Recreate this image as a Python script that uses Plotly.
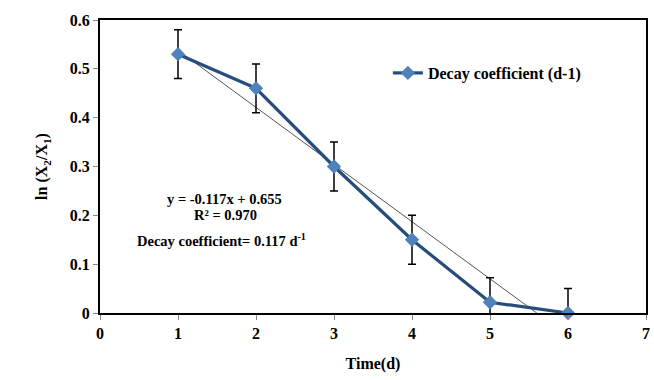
import plotly.graph_objects as go

days = [1, 2, 3, 4, 5, 6]
ln_ratio = [0.53, 0.46, 0.30, 0.15, 0.022, 0.0]
err = [0.05, 0.05, 0.05, 0.05, 0.05, 0.05]
slope = -0.117
intercept = 0.655
x_ticks = [0, 1, 2, 3, 4, 5, 6, 7]
y_ticks = [0, 0.1, 0.2, 0.3, 0.4, 0.5, 0.6]
y_tick_text = ["0", "0.1", "0.2", "0.3", "0.4", "0.5", "0.6"]

FONT = "Liberation Serif"

trend_x = [days[0], days[-1]]
trend_y = [slope * v + intercept for v in trend_x]

fig = go.Figure()
fig.add_trace(go.Scatter(
    x=trend_x, y=trend_y, mode="lines",
    line=dict(color="#555555", width=1), showlegend=False, hoverinfo="skip"))
fig.add_trace(go.Scatter(
    x=days, y=ln_ratio, mode="lines+markers", name="<b>Decay coefficient (d-1)</b>",
    line=dict(color="#254E7C", width=3.2),
    marker=dict(symbol="diamond", size=11, color="#4F81BD"),
    error_y=dict(type="data", array=err, visible=True, color="black", thickness=1.5, width=4),
    cliponaxis=False))

PW = 550.0
PH = 293.0
def px(xp):
    return (xp - 100) / PW
def py(yp):
    return 1 - (yp - 20) / PH

ann_font = dict(family=FONT, size=14.5, color="black")
fig.add_annotation(x=px(225), y=py(199), xref="paper", yref="paper", xanchor="center", yanchor="middle",
                   text="<b>y = -0.117x + 0.655</b>", showarrow=False, font=ann_font)
fig.add_annotation(x=px(226), y=py(215), xref="paper", yref="paper", xanchor="center", yanchor="middle",
                   text="<b>R² = 0.970</b>", showarrow=False, font=ann_font)
fig.add_annotation(x=px(222), y=py(240), xref="paper", yref="paper", xanchor="center", yanchor="middle",
                   text="<b>Decay coefficient= 0.117 d<sup>-1</sup></b>", showarrow=False, font=ann_font)

fig.update_layout(
    width=654, height=380,
    margin=dict(l=100, r=4, t=20, b=67),
    paper_bgcolor="white", plot_bgcolor="white",
    font=dict(family=FONT, size=15, color="black"),
    legend=dict(x=px(390), y=py(73), xanchor="left", yanchor="middle",
                bgcolor="rgba(0,0,0,0)", font=dict(family=FONT, size=16, color="black")),
    xaxis=dict(range=[0, 7], tickvals=x_ticks, ticktext=["<b>%d</b>" % v for v in x_ticks],
               showgrid=False, zeroline=False, showline=True, mirror=True,
               linecolor="black", linewidth=2, ticks="outside", ticklen=5,
               tickcolor="#888888", tickfont=dict(family=FONT, size=16),
               title=dict(text="<b>Time(d)</b>", font=dict(family=FONT, size=16), standoff=17)),
    yaxis=dict(range=[0, 0.6], tickvals=y_ticks, ticktext=["<b>%s</b>" % t for t in y_tick_text],
               showgrid=False, zeroline=False, showline=True, mirror=True,
               linecolor="black", linewidth=2, ticks="outside", ticklen=5,
               tickcolor="#888888", tickfont=dict(family=FONT, size=16),
               title=dict(text="<b>ln (X<sub>2</sub>/X<sub>1</sub>)</b>",
                          font=dict(family=FONT, size=16), standoff=18)),
)

fig.write_html("out.html")
